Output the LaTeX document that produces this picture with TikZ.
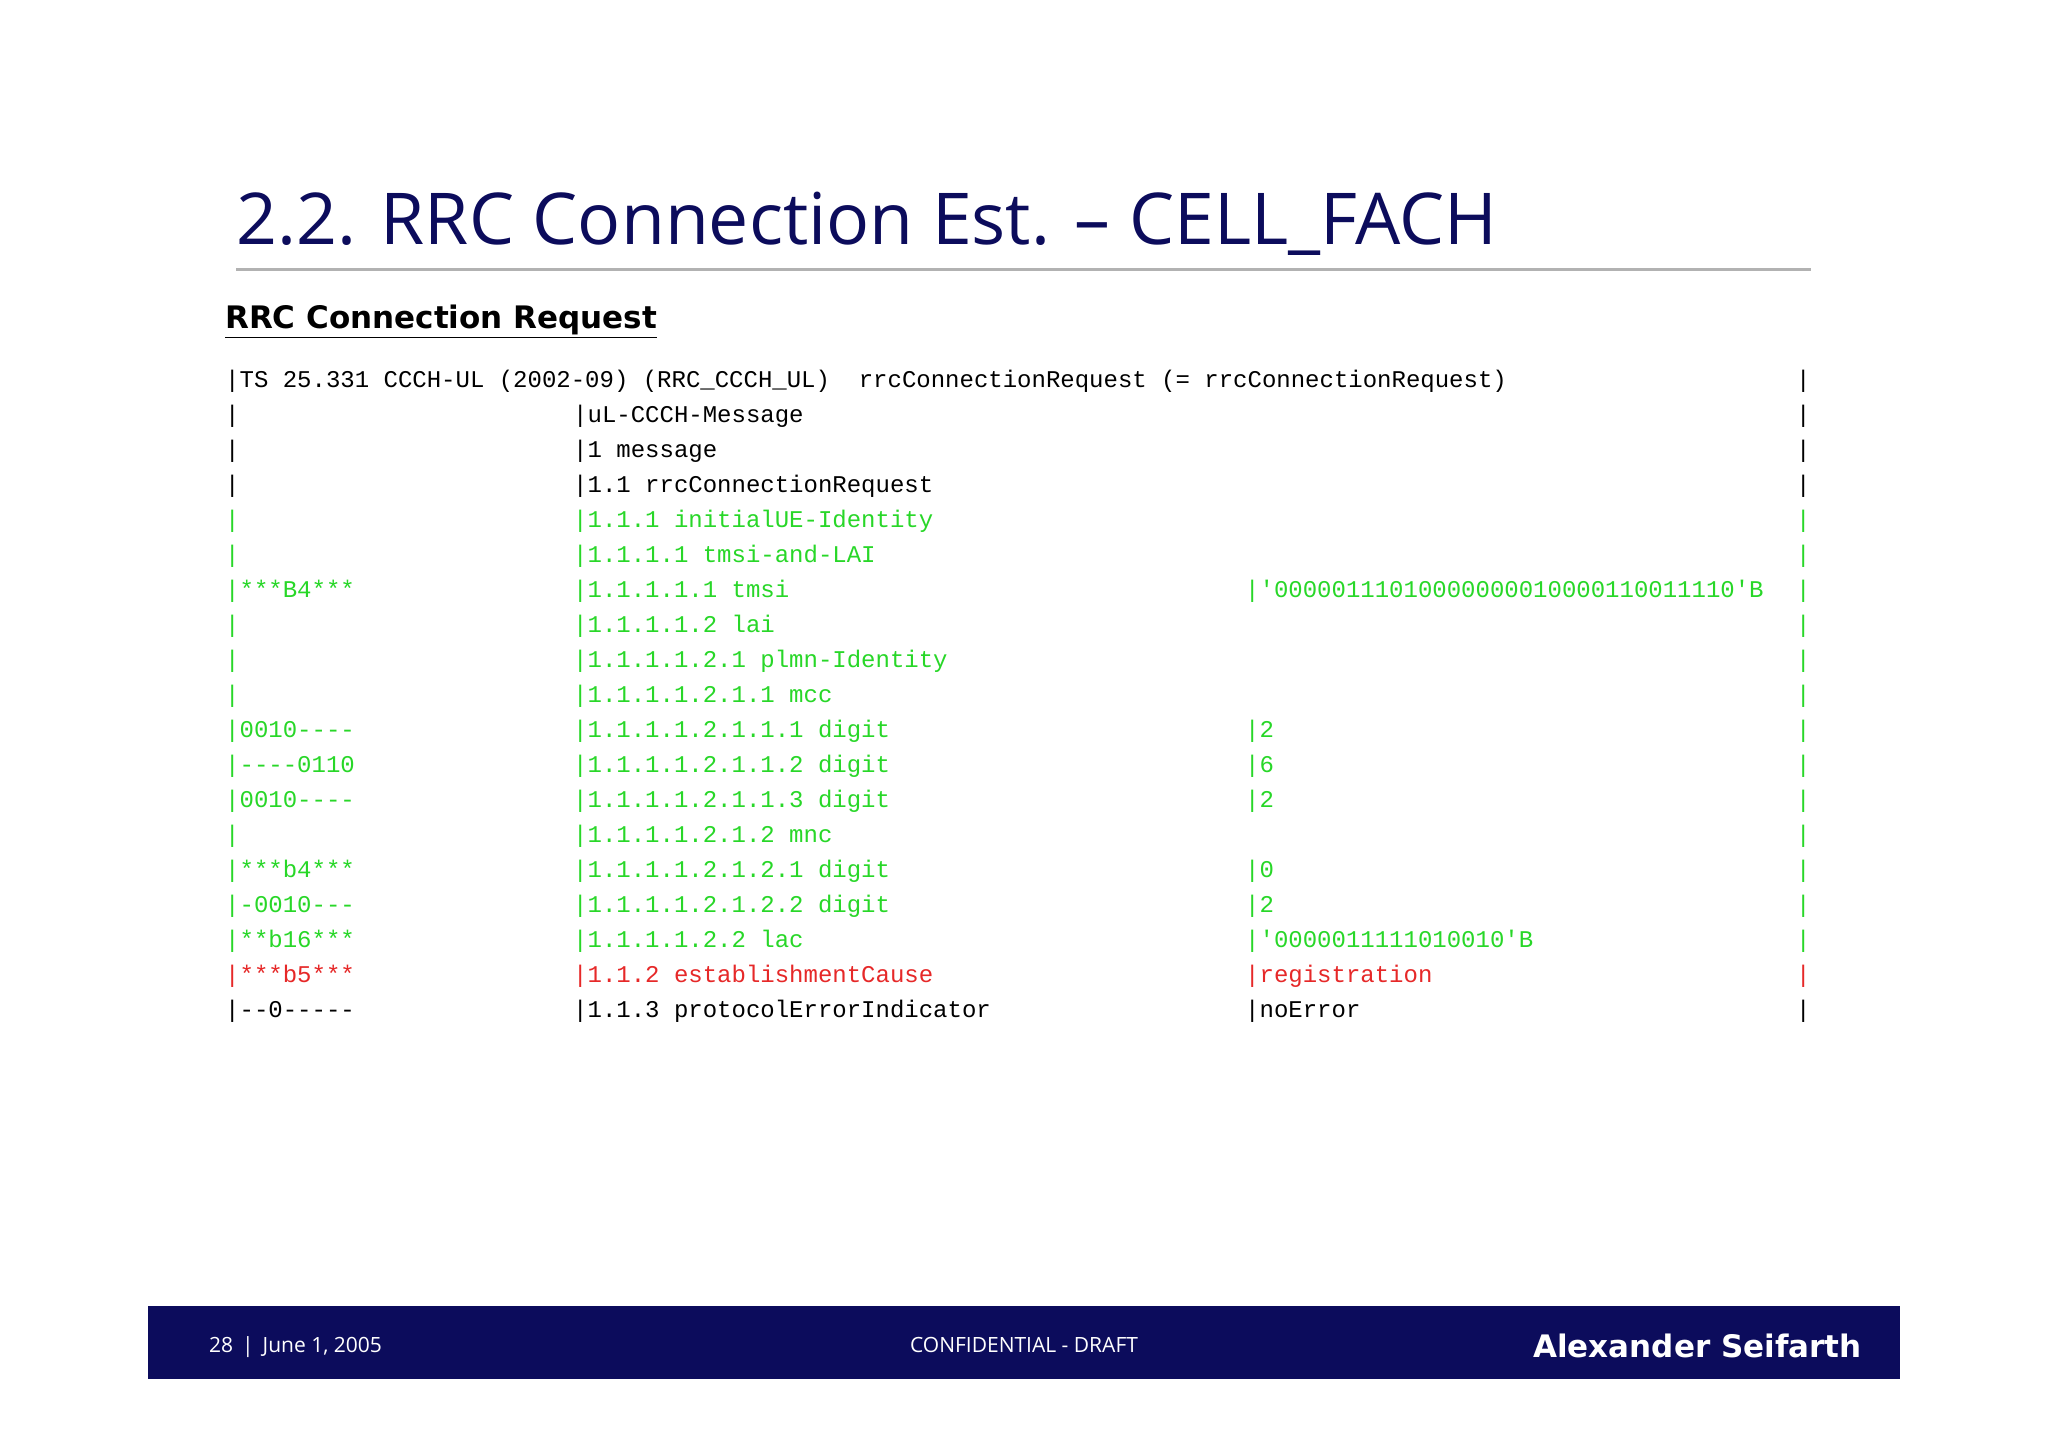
\documentclass[tikz,border=0pt]{standalone}
\usepackage{fontspec}
\setmainfont{Open Sans}
\newfontfamily\tabfont{Liberation Mono}
\newfontfamily\subfont{DejaVu Sans}
\definecolor{navy}{RGB}{12,12,92}
\definecolor{gr}{RGB}{40,215,40}
\definecolor{rd}{RGB}{230,40,40}
\begin{document}
\begin{tikzpicture}[x=1pt,y=-1pt,
  tx/.style={anchor=base west,inner sep=0pt,font=\tabfont\fontsize{24}{24}\selectfont},
  g/.style={tx,text=gr}, r/.style={tx,text=rd}, k/.style={tx,text=black}]
\useasboundingbox[fill=white] (0,0) rectangle (2048,1447);
\node[anchor=base west,inner sep=0pt,text=navy,font=\fontsize{71.5}{80}\selectfont] (title) at (236,245) {2.2. RRC Connection Est. – CELL\_FACH};
\draw[line width=3pt,color=black!30] (236,270) coordinate (r1) -- (1811,270) coordinate (r2);
\node[anchor=base west,inner sep=0pt,font=\subfont\bfseries\fontsize{31}{31}\selectfont] (sub) at (225,329) {\underline{RRC Connection Request}};
% rows
\def\Y#1{387+35*#1}
\node[k] (a0) at (225,{\Y0}) {|TS 25.331 CCCH-UL (2002-09) (RRC\_CCCH\_UL)\ \ rrcConnectionRequest (= rrcConnectionRequest)};
\foreach \i/\s in {0/k,1/k,2/k,3/k,4/g,5/g,6/g,7/g,8/g,9/g,10/g,11/g,12/g,13/g,14/g,15/g,16/g,17/r,18/k}{
  \node[\s] (e\i) at (1796,{\Y\i}) {|};}
\foreach \i/\s in {1/k,2/k,3/k,4/g,5/g,7/g,8/g,9/g,13/g}{
  \node[\s] (c\i) at (225,{\Y\i}) {|};}
\node[k] (b1) at (573,{\Y1}) {|uL-CCCH-Message};
\node[k] (b2) at (573,{\Y2}) {|1 message};
\node[k] (b3) at (573,{\Y3}) {|1.1 rrcConnectionRequest};
\node[g] (b4) at (573,{\Y4}) {|1.1.1 initialUE-Identity};
\node[g] (b5) at (573,{\Y5}) {|1.1.1.1 tmsi-and-LAI};
\node[g] (c6) at (225,{\Y6}) {|***B4***};
\node[g] (b6) at (573,{\Y6}) {|1.1.1.1.1 tmsi};
\node[g] (d6) at (1245,{\Y6}) {|'00000111010000000010000110011110'B};
\node[g] (b7) at (573,{\Y7}) {|1.1.1.1.2 lai};
\node[g] (b8) at (573,{\Y8}) {|1.1.1.1.2.1 plmn-Identity};
\node[g] (b9) at (573,{\Y9}) {|1.1.1.1.2.1.1 mcc};
\node[g] (c10) at (225,{\Y{10}}) {|0010----};
\node[g] (b10) at (573,{\Y{10}}) {|1.1.1.1.2.1.1.1 digit};
\node[g] (d10) at (1245,{\Y{10}}) {|2};
\node[g] (c11) at (225,{\Y{11}}) {|----0110};
\node[g] (b11) at (573,{\Y{11}}) {|1.1.1.1.2.1.1.2 digit};
\node[g] (d11) at (1245,{\Y{11}}) {|6};
\node[g] (c12) at (225,{\Y{12}}) {|0010----};
\node[g] (b12) at (573,{\Y{12}}) {|1.1.1.1.2.1.1.3 digit};
\node[g] (d12) at (1245,{\Y{12}}) {|2};
\node[g] (b13) at (573,{\Y{13}}) {|1.1.1.1.2.1.2 mnc};
\node[g] (c14) at (225,{\Y{14}}) {|***b4***};
\node[g] (b14) at (573,{\Y{14}}) {|1.1.1.1.2.1.2.1 digit};
\node[g] (d14) at (1245,{\Y{14}}) {|0};
\node[g] (c15) at (225,{\Y{15}}) {|-0010---};
\node[g] (b15) at (573,{\Y{15}}) {|1.1.1.1.2.1.2.2 digit};
\node[g] (d15) at (1245,{\Y{15}}) {|2};
\node[g] (c16) at (225,{\Y{16}}) {|**b16***};
\node[g] (b16) at (573,{\Y{16}}) {|1.1.1.1.2.2 lac};
\node[g] (d16) at (1245,{\Y{16}}) {|'0000011111010010'B};
\node[r] (c17) at (225,{\Y{17}}) {|***b5***};
\node[r] (b17) at (573,{\Y{17}}) {|1.1.2 establishmentCause};
\node[r] (d17) at (1245,{\Y{17}}) {|registration};
\node[k] (c18) at (225,{\Y{18}}) {|--0-----};
\node[k] (b18) at (573,{\Y{18}}) {|1.1.3 protocolErrorIndicator};
\node[k] (d18) at (1245,{\Y{18}}) {|noError};
% footer
\fill[navy] (148,1306) rectangle (1900,1379);
\node[anchor=base west,inner sep=0pt,text=white,font=\fontsize{21}{21}\selectfont] (f1) at (209,1352) {28 \,|\, June 1, 2005};
\node[anchor=base,inner sep=0pt,text=white,font=\fontsize{21}{21}\selectfont] (f2) at (1024,1352) {CONFIDENTIAL - DRAFT};
\node[anchor=base east,inner sep=0pt,text=white,font=\subfont\bfseries\fontsize{31}{31}\selectfont] (f3) at (1862,1357) {Alexander Seifarth};
\end{tikzpicture}
\end{document}
